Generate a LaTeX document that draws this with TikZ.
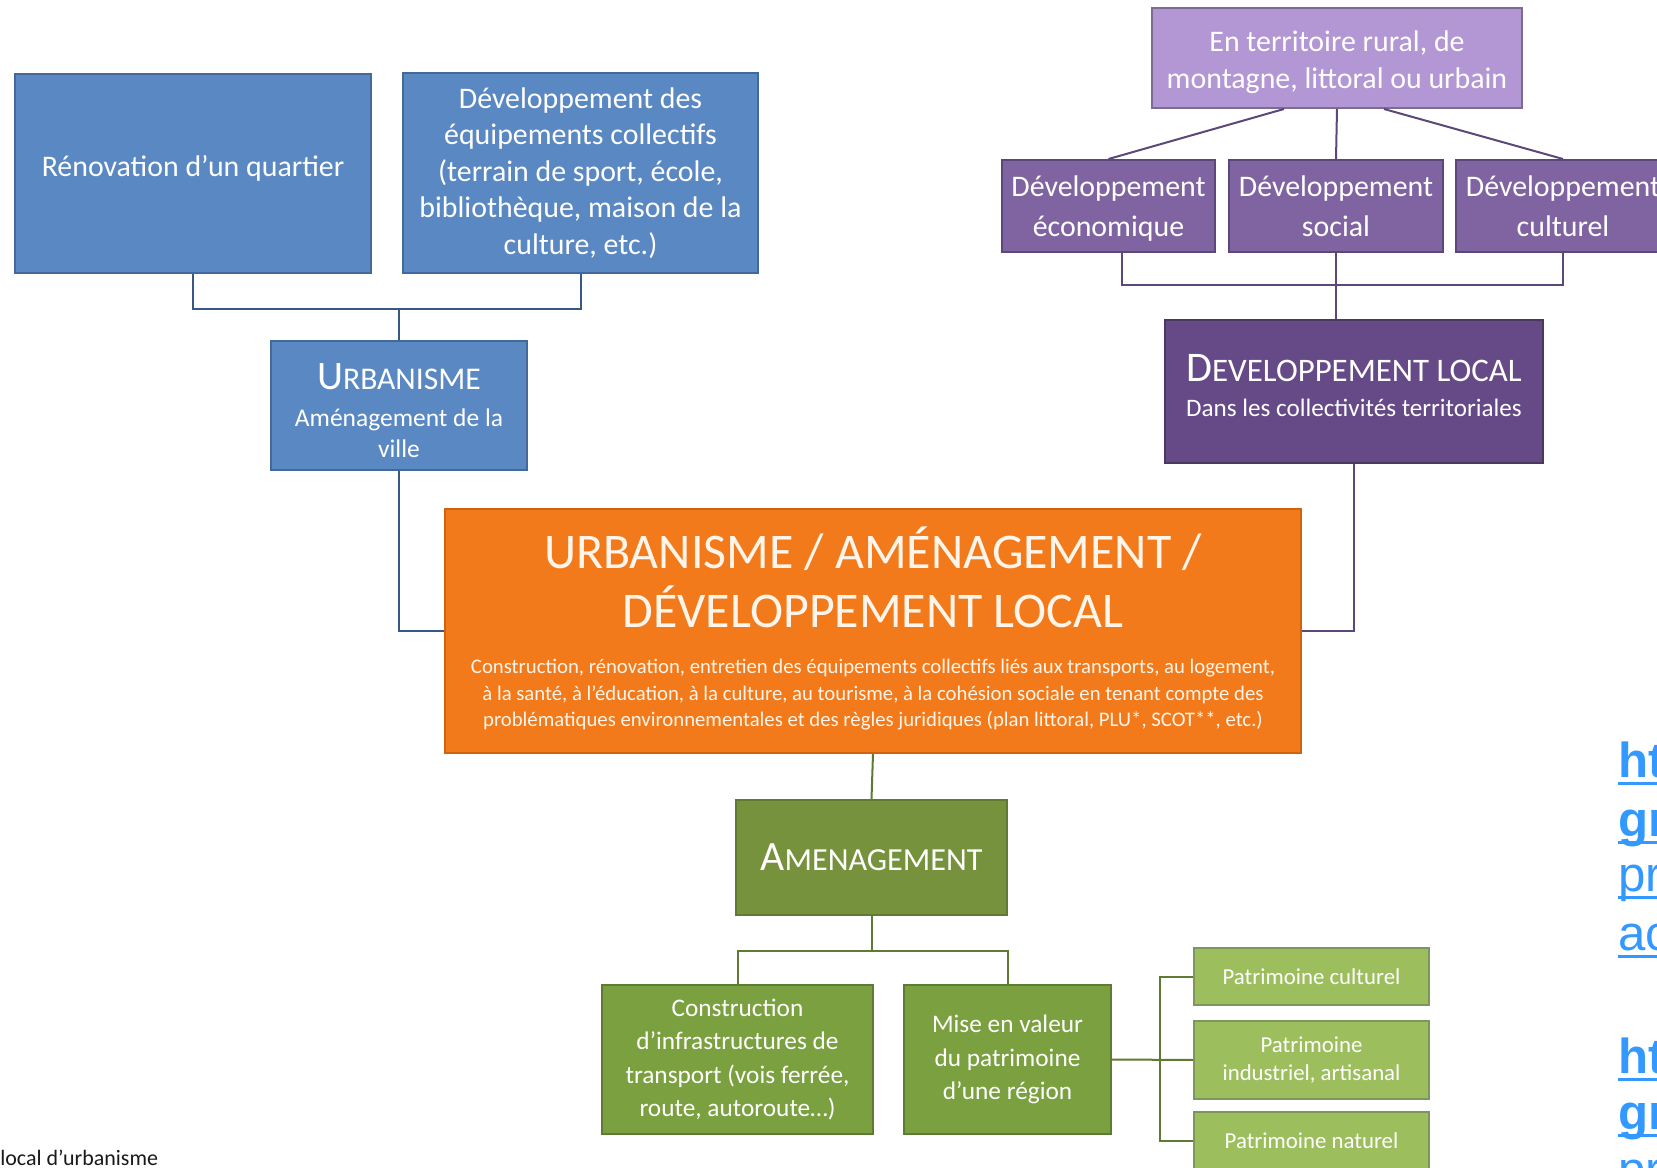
\documentclass[tikz,border=0pt]{standalone}
\usepackage{fontspec}
\setmainfont{Carlito}
\newfontfamily\linkfont{Liberation Sans}
\usepackage{xcolor}
\usepackage{tikz}

\definecolor{urbaBlue}{HTML}{5A88C3}
\definecolor{urbaLine}{HTML}{41699A}
\definecolor{terrPurple}{HTML}{B396D4}
\definecolor{devPurple}{HTML}{8064A2}
\definecolor{locPurple}{HTML}{664A87}
\definecolor{purpleLine}{HTML}{5B4779}
\definecolor{mainOrange}{HTML}{F37A1B}
\definecolor{orangeLine}{HTML}{D0630E}
\definecolor{amenGreen}{HTML}{76923C}
\definecolor{workGreen}{HTML}{7AA03F}
\definecolor{patGreen}{HTML}{9DBE5C}
\definecolor{greenLine}{HTML}{5E7A33}
\definecolor{linkBlue}{HTML}{3399FF}

% fake small caps: big first letter, smaller rest
\newcommand{\fsc}[4]{{\fontsize{#1}{#1}\selectfont #3}{\fontsize{#2}{#2}\selectfont #4}}
% centred lines inside a group
\newcommand{\boxlines}[1]{\begin{tabular}{@{}c@{}}#1\end{tabular}}
% extra room above / below a line
\newcommand{\padtop}[2]{\raisebox{0pt}[\dimexpr\height+#1\relax]{#2}}
\newcommand{\padbot}[2]{\raisebox{0pt}[\height][\dimexpr\depth+#1\relax]{#2}}

\begin{document}
\begin{tikzpicture}[x=0.2mm,y=-0.2mm]
      \tikzstyle{box}=[draw, line width=0.4mm, text=white, align=center, inner sep=0pt]
      \tikzstyle{urba_box}=[box, fill=urbaBlue, draw=urbaLine, font=\fontsize{17}{20.7}\selectfont]
      \tikzstyle{terr_box}=[box, fill=terrPurple, draw=purpleLine!80, font=\fontsize{17}{21}\selectfont]
      \tikzstyle{dev_box}=[box, fill=devPurple, draw=purpleLine, font=\fontsize{17}{22.8}\selectfont]
      \tikzstyle{loc_box}=[box, fill=locPurple, draw=purpleLine!80!black]
      \tikzstyle{main_box}=[box, fill=mainOrange, draw=orangeLine, text=white!92!orange]
      \tikzstyle{amen_box}=[box, fill=amenGreen, draw=greenLine]
      \tikzstyle{work_box}=[box, fill=workGreen, draw=greenLine, font=\fontsize{14.4}{18.9}\selectfont]
      \tikzstyle{pat_box}=[box, fill=patGreen, draw=greenLine!80, font=\fontsize{13}{15.6}\selectfont]
      \tikzstyle{blue_link}=[line width=0.4mm, draw=urbaLine!85!black]
      \tikzstyle{purple_link}=[line width=0.4mm, draw=purpleLine]
      \tikzstyle{green_link}=[line width=0.4mm, draw=greenLine]
      \tikzstyle{link_text}=[inner sep=0pt, anchor=base west, text=linkBlue, font=\linkfont\fontsize{28}{33}\selectfont]
      \tikzstyle{link_rule}=[line width=0.55mm, draw=linkBlue]

      \useasboundingbox (0,0) rectangle (1657,1168);
      \clip (0,0) rectangle (1657,1168);

      % urbanisme branch
      \begin{scope}
        \node (renov) [urba_box, minimum width=71.2mm, minimum height=39.8mm] at (193,173.5) {\raisebox{3mm}{Rénovation d’un quartier}};
        \node (equip) [urba_box, minimum width=71mm, minimum height=40mm] at (580.5,173) {Développement des\\équipements collectifs\\(terrain de sport, école,\\bibliothèque, maison de la\\culture, etc.)};
        \node (urba) [urba_box, minimum width=51.2mm, minimum height=25.8mm] at (399,405.5) {\padtop{3.8mm}{\fsc{23}{18}{U}{RBANISME}}\\[2.7mm]{\fontsize{14.5}{17.4}\selectfont\boxlines{Aménagement de la\\ville}}};

        \coordinate (urba_join) at (399,309);
        \draw[blue_link] (renov.south) |- (urba_join) -| (equip.south);
        \draw[blue_link] (urba_join) -- (urba.north);
      \end{scope}

      % developpement local branch
      \begin{scope}
        \node (terr) [terr_box, minimum width=74mm, minimum height=20mm] at (1337,58) {\padtop{1.7mm}{\boxlines{En territoire rural, de\\montagne, littoral ou urbain}}};
        \node (eco) [dev_box, minimum width=42.6mm, minimum height=18.4mm] at (1108.5,206) {\padtop{1mm}{Développement}\\économique};
        \node (soc) [dev_box, minimum width=42.8mm, minimum height=18.4mm] at (1336,206) {Développement\\social};
        \node (cult) [dev_box, minimum width=42.8mm, minimum height=18.4mm] at (1563,206) {Développement\\culturel};
        \node (devloc) [loc_box, minimum width=75.6mm, minimum height=28.6mm] at (1354,391.5) {\fsc{24}{18.7}{D}{EVELOPPEMENT LOCAL}\\[2.8mm]{\fontsize{14.3}{17}\selectfont\padbot{2.3mm}{Dans les collectivités territoriales}}};

        \draw[purple_link] ([xshift=-10.6mm]terr.south) -- (eco.north);
        \draw[purple_link] (terr.south) -- (soc.north);
        \draw[purple_link] ([xshift=9.4mm]terr.south) -- (cult.north);

        \coordinate (dev_join) at (1336,285);
        \draw[purple_link] ([xshift=2.7mm]eco.south) |- (dev_join) -| (cult.south);
        \draw[purple_link] (soc.south) -- (soc.south |- devloc.north);
      \end{scope}

      % centre
      \node (main) [main_box, minimum width=171.2mm, minimum height=48.8mm] at (873,631) {{\fontsize{28.4}{33}\selectfont\boxlines{URBANISME / AMÉNAGEMENT /\\DÉVELOPPEMENT LOCAL}}\\[1.5mm]{\fontsize{11.8}{15.3}\selectfont\boxlines{Construction, rénovation, entretien des équipements collectifs liés aux transports, au logement,\\à la santé, à l’éducation, à la culture, au tourisme, à la cohésion sociale en tenant compte des\\problématiques environnementales et des règles juridiques (plan littoral, PLU*, SCOT**, etc.)}}};

      \draw[blue_link] (urba.south) |- (main.west);
      \draw[purple_link] (devloc.south) |- (main.east);

      % amenagement branch
      \begin{scope}
        \node (amen) [amen_box, minimum width=54.2mm, minimum height=23mm] at (871.5,857.5) {\fsc{23.7}{18.3}{A}{MENAGEMENT}};
        \node (constr) [work_box, minimum width=54.2mm, minimum height=29.8mm] at (737.5,1059.5) {Construction\\d’infrastructures de\\transport (vois ferrée,\\route, autoroute…)};
        \node (mise) [work_box, minimum width=41.4mm, minimum height=29.8mm] at (1007.5,1059.5) {Mise en valeur\\du patrimoine\\d’une région};
        \node (patcult) [pat_box, minimum width=47mm, minimum height=11.4mm] at (1311.5,976.5) {Patrimoine culturel};
        \node (patind) [pat_box, minimum width=47mm, minimum height=15.6mm] at (1311.5,1060) {Patrimoine\\industriel, artisanal};
        \node (patnat) [pat_box, minimum width=47mm, minimum height=11.6mm] at (1311.5,1141) {Patrimoine naturel};

        \draw[green_link] (main.south) -- (amen.north);
        \coordinate (amen_join) at (871.5,951);
        \draw[green_link] (amen.south) -- (amen_join);
        \draw[green_link] (constr.north) |- (amen_join) -| (mise.north);

        \coordinate (pat_join) at (1160,1060);
        \draw[green_link] (mise.east) -- (patind.west);
        \draw[green_link] (patcult.west) -| (pat_join) |- (patnat.west);
      \end{scope}

      % cut texts at the borders
      \node (note) [inner sep=0pt, anchor=base west, text=black!90, font=\fontsize{12.5}{14}\selectfont] at (0,1165) {local d’urbanisme};
      \node (link1) [link_text] at (1618,777) {\textbf{ht}};
      \node (link2) [link_text] at (1618,836) {\textbf{gr}};
      \node (link3) [link_text] at (1618,891) {pr};
      \node (link4) [link_text] at (1618,950) {ac};
      \node (link5) [link_text] at (1618,1073) {\textbf{ht}};
      \node (link6) [link_text] at (1618,1129) {\textbf{gr}};
      \node (link7) [link_text] at (1618,1186) {pr};
      \foreach \l in {link1,link2,link3,link4,link5,link6,link7}
        \draw[link_rule] ([yshift=-1.3mm]\l.base west) -- ([yshift=-1.3mm]\l.base east);
\end{tikzpicture}
\end{document}
